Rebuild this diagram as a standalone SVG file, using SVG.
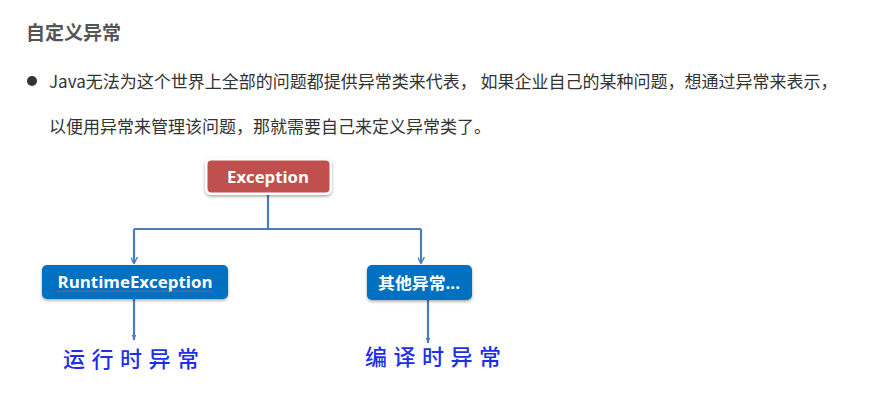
<svg xmlns="http://www.w3.org/2000/svg" width="869" height="414" viewBox="0 0 869 414">
<style>
.cjk{font-family:"Noto Sans CJK SC","Liberation Sans",sans-serif}
.title{font-size:19px;font-weight:bold;fill:#555555}
.body{font-size:17px;fill:#333333}
.lbl{font-family:"Open Sans","Noto Sans CJK SC",sans-serif;font-weight:bold;fill:#ffffff;font-size:16px}
.hand{font-family:"Noto Sans CJK SC",sans-serif;font-size:22px;font-weight:500;fill:#1f2fe8;letter-spacing:6.5px}
.conn{fill:none;stroke:#4a7ebb;stroke-width:2.2}
</style>
<defs>
<filter id="sh" x="-10%" y="-20%" width="120%" height="150%">
<feDropShadow dx="0" dy="1.5" stdDeviation="1.5" flood-color="#000" flood-opacity="0.35"/>
</filter>
<marker id="ar" viewBox="0 0 10 10" refX="9" refY="5" markerWidth="7" markerHeight="7" orient="auto" markerUnits="userSpaceOnUse">
<path d="M0,0 L10,5 L0,10" fill="none" stroke="#4a7ebb" stroke-width="2"/>
</marker>
<marker id="ar2" viewBox="0 0 10 10" refX="9" refY="5" markerWidth="6" markerHeight="6" orient="auto" markerUnits="userSpaceOnUse">
<path d="M0,1 L10,5 L0,9 Z" fill="#4a7ebb"/>
</marker>
</defs>
<rect width="869" height="414" fill="#ffffff"/>
<text class="cjk title" x="26" y="40">自定义异常</text>
<circle cx="32" cy="81" r="5" fill="#333333"/>
<text class="cjk body" x="49" y="88">Java无法为这个世界上全部的问题都提供异常类来代表， 如果企业自己的某种问题，想通过异常来表示，</text>
<text class="cjk body" x="49" y="133">以便用异常来管理该问题，那就需要自己来定义异常类了。</text>
<g id="connectors">
<path class="conn" d="M268,193 V229"/>
<path class="conn" d="M134,229 H421"/>
<path class="conn" d="M134,229 V263" marker-end="url(#ar)"/>
<path class="conn" d="M421,229 V263" marker-end="url(#ar)"/>
<path class="conn" d="M134,299 V340" marker-end="url(#ar2)"/>
<path class="conn" d="M428,300 V343" marker-end="url(#ar2)"/>
</g>
<g id="node-exception">
<rect x="205" y="158" width="127" height="37" rx="6" fill="#ffffff" filter="url(#sh)"/>
<rect x="207.5" y="160.5" width="122" height="32" rx="4" fill="#c0504d"/>
<text class="lbl" x="268" y="182.5" text-anchor="middle" font-size="17" textLength="82" lengthAdjust="spacingAndGlyphs">Exception</text>
</g>
<g id="node-runtime">
<rect x="42" y="265" width="186" height="34" rx="5" fill="#0070c0" filter="url(#sh)"/>
<text class="lbl" x="135" y="288" text-anchor="middle" textLength="155" lengthAdjust="spacingAndGlyphs">RuntimeException</text>
<path d="M57,292 l1.5,-1.5 l1.5,1.5 l1.5,-1.5 l1.5,1.5 l1.5,-1.5 l1.5,1.5 l1.5,-1.5 l1.5,1.5 l1.5,-1.5 l1.5,1.5 l1.5,-1.5 l1.5,1.5 l1.5,-1.5 l1.5,1.5 l1.5,-1.5 l1.5,1.5 l1.5,-1.5 l1.5,1.5 l1.5,-1.5 l1.5,1.5 l1.5,-1.5 l1.5,1.5 l1.5,-1.5 l1.5,1.5 l1.5,-1.5 l1.5,1.5 l1.5,-1.5 l1.5,1.5 l1.5,-1.5 l1.5,1.5 l1.5,-1.5 l1.5,1.5 l1.5,-1.5 l1.5,1.5 l1.5,-1.5 l1.5,1.5 l1.5,-1.5 l1.5,1.5 l1.5,-1.5 l1.5,1.5 l1.5,-1.5 l1.5,1.5 l1.5,-1.5 l1.5,1.5 l1.5,-1.5 l1.5,1.5 l1.5,-1.5 l1.5,1.5 l1.5,-1.5 l1.5,1.5 l1.5,-1.5 l1.5,1.5 l1.5,-1.5 l1.5,1.5 l1.5,-1.5 l1.5,1.5 l1.5,-1.5 l1.5,1.5 l1.5,-1.5 l1.5,1.5 l1.5,-1.5 l1.5,1.5 l1.5,-1.5 l1.5,1.5 l1.5,-1.5 l1.5,1.5 l1.5,-1.5 l1.5,1.5 l1.5,-1.5 l1.5,1.5 l1.5,-1.5 l1.5,1.5 l1.5,-1.5 l1.5,1.5 l1.5,-1.5 l1.5,1.5 l1.5,-1.5 l1.5,1.5 l1.5,-1.5 l1.5,1.5 l1.5,-1.5 l1.5,1.5 l1.5,-1.5 l1.5,1.5 l1.5,-1.5 l1.5,1.5 l1.5,-1.5 l1.5,1.5 l1.5,-1.5 l1.5,1.5 l1.5,-1.5 l1.5,1.5 l1.5,-1.5 l1.5,1.5 l1.5,-1.5 l1.5,1.5 l1.5,-1.5 l1.5,1.5 l1.5,-1.5 l1.5,1.5 l1.5,-1.5 l1.5,1.5 l1.5,-1.5 l1.5,1.5" fill="none" stroke="#e04040" stroke-width="0.9"/>
</g>
<g id="node-other">
<rect x="367" y="265" width="105" height="35" rx="5" fill="#0070c0" filter="url(#sh)"/>
<text class="lbl" x="419" y="289" text-anchor="middle" textLength="82" lengthAdjust="spacingAndGlyphs">其他异常...</text>
</g>
<g id="label-runtime">
<text class="hand" x="63" y="367">运行时异常</text>
</g>
<g id="label-compile">
<text class="hand" x="365" y="365">编译时异常</text>
</g>
</svg>
